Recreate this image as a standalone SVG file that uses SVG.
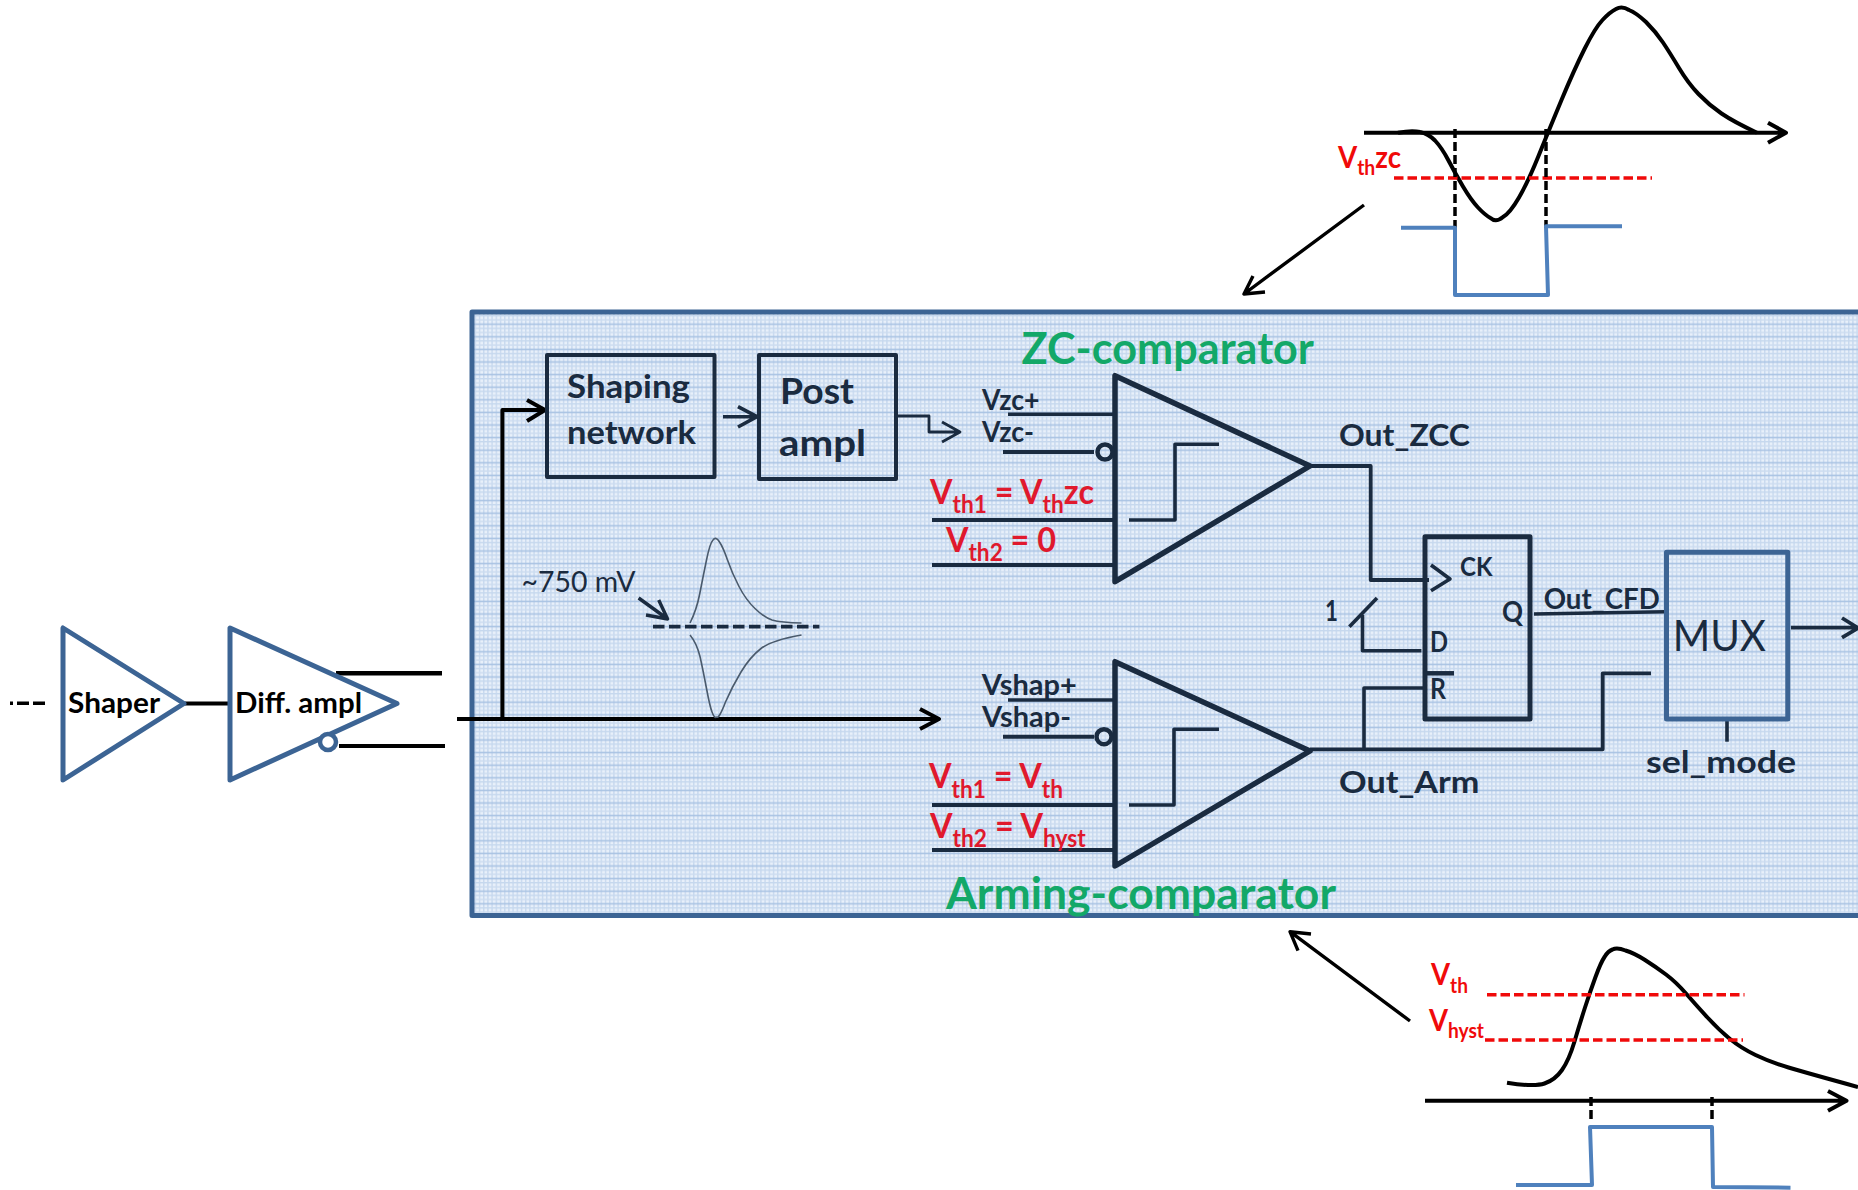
<svg xmlns="http://www.w3.org/2000/svg" width="1858" height="1190" viewBox="0 0 1858 1190">
<style>
text{font-family:Lato,"Open Sans","Liberation Sans",sans-serif;font-weight:700;fill:#1a2b40}
.k{fill:#000}
.r{fill:#e0192d}
.pr{fill:#f00a0a}
.g{fill:#13a868}
.n{font-weight:400}
.s{font-size:70%}
path,line,polyline,polygon,rect,circle{fill:none;stroke-linejoin:round}
.ln{stroke:#1a2b40;stroke-width:3.6}
.th{stroke:#1a2b40;stroke-width:5}
.bk{stroke:#000;stroke-width:4}
.bl{stroke:#3c6494;stroke-width:5}
.wave{stroke:#4f81bd;stroke-width:4}
.rd{stroke:#f00a0a;stroke-width:3.5;stroke-dasharray:9.5 4}
.kd{stroke:#000;stroke-width:3.5;stroke-dasharray:9 4}
.pulse{stroke:#4a5a6c;stroke-width:1.6}
</style>
<defs>
<pattern id="plaid" width="4.2" height="12.6" patternUnits="userSpaceOnUse">
<rect width="4.2" height="12.6" style="fill:#e8f0fa;stroke:none"/>
<rect x="0" width="1.4" height="12.6" style="fill:#c8d9ef;stroke:none"/>
<rect y="0" width="4.2" height="1.4" style="fill:#c6d8ee;stroke:none"/>
<rect y="4.2" width="4.2" height="1.4" style="fill:#ccdcf0;stroke:none"/>
<rect y="8.4" width="4.2" height="1.6" style="fill:#a9c3e3;stroke:none"/>
</pattern>
</defs>

<g id="block"><rect x="472" y="312" width="1400" height="603.5" style="fill:url(#plaid);stroke:#3c6494;stroke-width:5"/></g>

<g id="connectors">
<path class="k" d="M10 703.3H13M17 703.3H29M33 703.3H45" style="stroke:#000;stroke-width:3.5"/>
<line class="bk" x1="185" y1="703.5" x2="229" y2="703.5"/>
<line class="bk" x1="336" y1="673.3" x2="442" y2="673.3" style="stroke-width:4.5"/>
<line class="bk" x1="339" y1="746" x2="445" y2="746" style="stroke-width:4"/>
<path class="bk" d="M457 719H939M920 709L939 719L920 729"/>
<path class="bk" d="M502.4 719V410H545M527 400L545 410L527 421"/>
<path class="ln" d="M723 416.7H757M738 406.7L757 416.7L738 427"/>
<path class="ln" d="M896 416H929V432H960M942 422L960 432L942 442" style="stroke-width:2.8"/>
<line class="ln" x1="1008" y1="414.3" x2="1114" y2="414.3"/>
<line class="th" x1="1003" y1="452" x2="1094" y2="452" style="stroke-width:4"/>
<line class="th" x1="932" y1="520" x2="1115" y2="520" style="stroke-width:4"/>
<line class="th" x1="932" y1="565" x2="1115" y2="565" style="stroke-width:4"/>
<line class="ln" x1="1008" y1="700" x2="1115" y2="700"/>
<line class="th" x1="1003" y1="736.7" x2="1094" y2="736.7" style="stroke-width:4"/>
<line class="th" x1="932" y1="805" x2="1115" y2="805" style="stroke-width:4"/>
<line class="th" x1="932" y1="850" x2="1115" y2="850" style="stroke-width:4"/>
<path class="ln" d="M1310 466H1370.7V580H1429" style="stroke-width:3.8"/>
<path class="ln" d="M1349.4 626.7L1377 598"/>
<path class="ln" d="M1362.5 615V650.7H1421.4"/>
<path class="ln" d="M1364 749V688H1425"/>
<path class="ln" d="M1310 749.3H1602.7V673.3H1651" style="stroke-width:3.8"/>
<line class="ln" x1="1534" y1="614" x2="1665.5" y2="611.7"/>
<path class="ln" d="M1791 627.7H1858M1842 618L1858 628L1842 637.7" style="stroke-width:3.8"/>
<line class="ln" x1="1727" y1="720" x2="1727" y2="741.7"/>
<path class="bk" d="M1364 205L1244 294M1253 276L1244 294L1265 292" style="stroke-width:3.4"/>
<path class="bk" d="M1410 1021L1290 931.7M1311 934L1290 931.7L1298 950.7" style="stroke-width:3.4"/>
</g>

<g id="shaper"><polygon class="bl" points="63,628 63,780 184,703.5"/><text class="k" x="68" y="712.7" font-size="28.5" textLength="92" lengthAdjust="spacingAndGlyphs">Shaper</text></g>
<g id="diff-ampl"><polygon class="bl" points="230,628 230,780 397,703.5"/><circle class="bl" cx="328" cy="742" r="8" style="stroke-width:4.5;fill:#fff"/><text class="k" x="235" y="712.7" font-size="28.5" textLength="127" lengthAdjust="spacingAndGlyphs">Diff. ampl</text></g>

<g id="shaping-network"><rect class="th" x="547" y="355" width="167.5" height="122" style="stroke-width:4"/>
<text x="567" y="398" font-size="32" textLength="123" lengthAdjust="spacingAndGlyphs">Shaping</text>
<text x="567" y="444" font-size="32" textLength="129" lengthAdjust="spacingAndGlyphs">network</text></g>
<g id="post-ampl"><rect class="th" x="759" y="355" width="137" height="124" style="stroke-width:4"/>
<text x="780" y="404" font-size="37" textLength="74" lengthAdjust="spacingAndGlyphs">Post</text>
<text x="779" y="456" font-size="37" textLength="87" lengthAdjust="spacingAndGlyphs">ampl</text></g>

<g id="pulse">
<text class="n" x="521.6" y="591.7" font-size="28" textLength="114" lengthAdjust="spacingAndGlyphs">~750 mV</text>
<path class="ln" d="M638.6 598L667.6 619M658.7 600L667.6 619L646 615" style="stroke-width:3.4"/>
<line class="th" x1="653" y1="626.7" x2="819.4" y2="626.7" style="stroke-width:3.8;stroke-dasharray:11.5 4.5"/>
<path class="pulse" d="M690 623Q696.6 610 699.8 593.5Q703 577 706.5 560Q710 543 713 540Q716 536 719.5 542Q723 547 727.5 560Q732 573 739 586.5Q746 600 755 608.5Q763.6 617 772 620Q781 622.7 801.5 623"/>
<path class="pulse" d="M690 635Q696.6 643 700 656.5Q703 670 706.5 688.5Q710 707 712 712Q714.5 719 716.75 717Q719 719 725.5 702Q732 687 741 672Q750 657 761 648.5Q772.5 640 801.5 635"/>
</g>

<g id="zc-comparator">
<text class="g" x="1021.5" y="364" font-size="43" textLength="292.5" lengthAdjust="spacingAndGlyphs">ZC-comparator</text>
<polygon class="th" points="1115,375.7 1115,581.7 1310,466" style="stroke-width:5.5"/>
<circle class="th" cx="1105" cy="452" r="7.5" style="stroke-width:4.5"/>
<path class="ln" d="M1129 520H1175V444.3H1219"/>
<text x="982" y="410" font-size="28" textLength="57.5" lengthAdjust="spacingAndGlyphs">Vzc+</text>
<text x="982" y="442" font-size="28" textLength="52" lengthAdjust="spacingAndGlyphs">Vzc-</text>
<text class="r" x="930" y="504" font-size="34" textLength="164" lengthAdjust="spacingAndGlyphs">V<tspan class="s" dy="9">th1</tspan><tspan dy="-9"> = V</tspan><tspan class="s" dy="9">th</tspan><tspan dy="-9">zc</tspan></text>
<text class="r" x="946" y="551.7" font-size="34" textLength="110" lengthAdjust="spacingAndGlyphs">V<tspan class="s" dy="9">th2</tspan><tspan dy="-9"> = 0</tspan></text>
<text x="1339" y="446" font-size="31" textLength="131" lengthAdjust="spacingAndGlyphs">Out_ZCC</text>
</g>

<g id="arming-comparator">
<text class="g" x="946" y="909" font-size="43" textLength="390" lengthAdjust="spacingAndGlyphs">Arming-comparator</text>
<polygon class="th" points="1115,661.7 1115,866 1310,751" style="stroke-width:5.5"/>
<circle class="th" cx="1104" cy="736.7" r="7.5" style="stroke-width:4.5"/>
<path class="ln" d="M1129 805H1174V729.3H1219"/>
<text x="981.7" y="695" font-size="28" textLength="95" lengthAdjust="spacingAndGlyphs">Vshap+</text>
<text x="982" y="727" font-size="28" textLength="89" lengthAdjust="spacingAndGlyphs">Vshap-</text>
<text class="r" x="929" y="788" font-size="34" textLength="134" lengthAdjust="spacingAndGlyphs">V<tspan class="s" dy="10">th1</tspan><tspan dy="-10"> = V</tspan><tspan class="s" dy="10">th</tspan></text>
<text class="r" x="930" y="837.7" font-size="34" textLength="155.7" lengthAdjust="spacingAndGlyphs">V<tspan class="s" dy="9">th2</tspan><tspan dy="-9"> = V</tspan><tspan class="s" dy="9">hyst</tspan></text>
<text x="1339" y="792.7" font-size="31" textLength="140.4" lengthAdjust="spacingAndGlyphs">Out_Arm</text>
</g>

<g id="flipflop">
<rect class="th" x="1425" y="536.7" width="105" height="182.3"/>
<path class="ln" d="M1431 565L1450 579L1431 590.7"/>
<line class="th" x1="1425" y1="673.3" x2="1454" y2="673.3" style="stroke-width:4.5"/>
<text x="1460" y="576" font-size="27" textLength="32.5" lengthAdjust="spacingAndGlyphs">CK</text>
<text x="1502" y="621.7" font-size="29" textLength="21" lengthAdjust="spacingAndGlyphs">Q</text>
<text x="1430" y="652" font-size="28" textLength="18" lengthAdjust="spacingAndGlyphs">D</text>
<text x="1430" y="699" font-size="28" textLength="16" lengthAdjust="spacingAndGlyphs">R</text>
<text x="1325" y="620.7" font-size="28" textLength="13" lengthAdjust="spacingAndGlyphs">1</text>
<text x="1543.7" y="609" font-size="28" textLength="116" lengthAdjust="spacingAndGlyphs">Out_CFD</text>
</g>

<g id="mux">
<rect class="bl" x="1666.5" y="552.3" width="121.3" height="166.7" style="stroke-width:5"/>
<text class="n" x="1672.7" y="651" font-size="42" textLength="93.3" lengthAdjust="spacingAndGlyphs">MUX</text>
<text x="1646" y="773" font-size="31" textLength="150" lengthAdjust="spacingAndGlyphs">sel_mode</text>
</g>

<g id="waveform-zc">
<path class="bk" d="M1364 132.7H1786M1768 122.7L1786 132.7L1768 142.7"/>
<path class="bk" d="M1398 132.7Q1412 130 1420 132Q1428 133.5 1435 140.5Q1442 148 1448.5 160.5Q1455 173 1463 186.5Q1471 200 1478 207.5Q1485 215 1490.5 218Q1496 223 1503 217Q1510 213 1519 197.5Q1528 182 1538.5 156Q1549 130 1561.5 100Q1574 70 1584.5 49Q1595 28 1602.5 20Q1610 12 1616 9Q1622 5.5 1629 10Q1636 12.7 1646 22Q1656 32 1663 42.5Q1670 53 1679 68Q1688 83 1698.5 94Q1709 105 1721.5 113.5Q1734 122 1757 132.7"/>
<line class="rd" x1="1394" y1="178" x2="1652" y2="178"/>
<line class="kd" x1="1455" y1="129" x2="1455" y2="228"/>
<line class="kd" x1="1546" y1="129" x2="1546" y2="228"/>
<polyline class="wave" points="1401,227.7 1455,227.7 1455,295 1548,295 1546,226.3 1622,226.3"/>
<text class="pr" x="1338" y="168" font-size="31" textLength="63" lengthAdjust="spacingAndGlyphs">V<tspan class="s" dy="7">th</tspan><tspan dy="-7">zc</tspan></text>
</g>

<g id="waveform-arm">
<path class="bk" d="M1425 1100.7H1846.5M1828 1091L1846.5 1100.7L1828 1110.7"/>
<path class="bk" d="M1507 1082.7Q1534 1087 1544.5 1083.5Q1555 1080 1562 1070Q1569 1060 1574.5 1041.5Q1580 1023 1585 1007.5Q1590 992 1595.5 977Q1601 962 1604.5 957Q1608 951 1612.5 949.5Q1617 947 1625.5 950.5Q1634 953 1645 960Q1656 967 1666 974.5Q1676 982 1686 993.5Q1696 1005 1707.5 1017.5Q1719 1030 1730 1039Q1741 1048 1755.5 1055Q1770 1062 1788.5 1067.5Q1807 1073 1858 1087"/>
<line class="rd" x1="1487" y1="994.7" x2="1744.5" y2="994.7"/>
<line class="rd" x1="1485" y1="1040" x2="1743" y2="1040"/>
<line class="kd" x1="1591" y1="1097" x2="1591" y2="1120"/>
<line class="kd" x1="1712" y1="1097" x2="1712" y2="1120"/>
<polyline class="wave" points="1516,1185 1592,1185 1590,1127 1712,1127 1713,1187 1790.5,1187.7"/>
<text class="pr" x="1431" y="985" font-size="31" textLength="37" lengthAdjust="spacingAndGlyphs">V<tspan class="s" dy="8">th</tspan></text>
<text class="pr" x="1429" y="1031" font-size="31" textLength="55" lengthAdjust="spacingAndGlyphs">V<tspan class="s" dy="7">hyst</tspan></text>
</g>
</svg>
